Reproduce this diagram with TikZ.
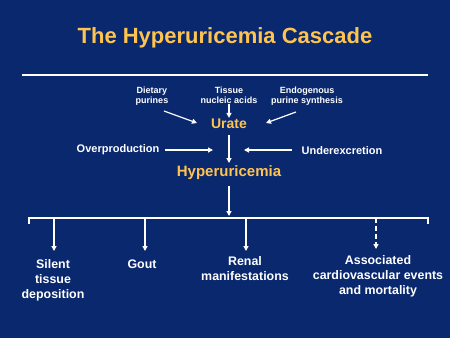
\documentclass[tikz,border=0pt]{standalone}
\usepackage{fontspec}
\setmainfont{Liberation Sans}
\usetikzlibrary{arrows.meta}
\definecolor{bg}{RGB}{10,40,110}
\definecolor{gold}{RGB}{255,196,80}
\begin{document}
\begin{tikzpicture}[x=1pt,y=-1pt,
  lbl/.style={text=white,font=\bfseries\fontsize{9}{10}\selectfont,align=center,inner sep=0pt},
  midlbl/.style={text=white,font=\bfseries\fontsize{11}{13}\selectfont,align=center,inner sep=0pt},
  outlbl/.style={text=white,font=\bfseries\fontsize{12.4}{15}\selectfont,align=center,inner sep=0pt},
  keylbl/.style={text=gold,font=\bfseries\fontsize{14}{16}\selectfont,inner sep=1pt},
  arr/.style={white,line width=1.2pt,-{Triangle[length=5pt,width=5pt]}},
  wline/.style={white,line width=1.2pt}]
\fill[bg] (0,0) rectangle (450,338);
\useasboundingbox (0,0) rectangle (450,338);
\node[text=gold,font=\bfseries\fontsize{22}{24}\selectfont,inner sep=0pt] (title) at (225,38) {The Hyperuricemia Cascade};
\coordinate (r1) at (22,75); \coordinate (r2) at (428,75);
\draw[white,line width=1.5pt] (r1) -- (r2);
\node[lbl] (diet) at (152,96) {Dietary\\purines};
\node[lbl] (tis) at (229,95) {Tissue\\nucleic acids};
\node[lbl] (endo) at (307,96) {Endogenous\\purine synthesis};
\node[keylbl] (urate) at (229,124) {Urate};
\coordinate (d1) at (164,111); \coordinate (d2) at (197,123);
\draw[arr] (d1) -- (d2);
\draw[arr] (tis.south) -- (urate.north);
\coordinate (e1) at (296,112); \coordinate (e2) at (266,123);
\draw[arr] (e1) -- (e2);
\node[midlbl] (over) at (118,149.5) {Overproduction};
\node[midlbl] (under) at (342,150.5) {Underexcretion};
\coordinate (o1) at (165,150); \coordinate (o2) at (213,150);
\coordinate (u1) at (292,150); \coordinate (u2) at (244,150);
\draw[arr] (o1) -- (o2);
\draw[arr] (u1) -- (u2);
\node[keylbl,font=\bfseries\fontsize{15}{17}\selectfont] (hyper) at (229,173) {Hyperuricemia};
\coordinate (h1) at (229,135); \coordinate (h2) at (229,163);
\draw[arr] (h1) -- (h2);
\coordinate (g1) at (229,186); \coordinate (bt) at (229,216);
\draw[arr] (g1) -- (bt);
\coordinate (bl) at (29,224); \coordinate (br) at (428,224);
\draw[wline] (bl) -- (29,218) -- (428,218) -- (br);
\coordinate (a1) at (54,218); \coordinate (a2) at (145,218);
\coordinate (a3) at (246,218); \coordinate (a4) at (376,218);
\node[outlbl] (silent) at (53,280) {Silent\\tissue\\deposition};
\node[outlbl] (gout) at (142,264) {Gout};
\node[outlbl] (renal) at (245,268.5) {Renal\\manifestations};
\node[outlbl] (assoc) at (378,276) {Associated\\cardiovascular events\\and mortality};
\coordinate (b1) at (54,251); \coordinate (b2) at (145,251);
\coordinate (b3) at (246,251); \coordinate (b4) at (376,249);
\draw[arr] (a1) -- (b1);
\draw[arr] (a2) -- (b2);
\draw[arr] (a3) -- (b3);
\draw[arr,dash pattern=on 5pt off 3pt] (a4) -- (b4);
\end{tikzpicture}
\end{document}
